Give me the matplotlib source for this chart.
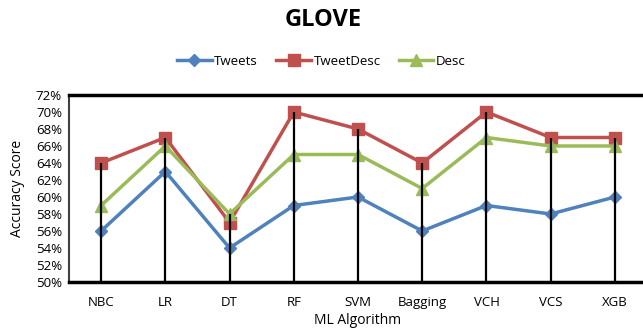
import matplotlib.pyplot as plt
from matplotlib.ticker import FuncFormatter

plt.rcParams["font.family"] = ["Open Sans", "DejaVu Sans"]

algorithms = ["NBC", "LR", "DT", "RF", "SVM", "Bagging", "VCH", "VCS", "XGB"]
tweets = [56, 63, 54, 59, 60, 56, 59, 58, 60]
tweet_desc = [64, 67, 57, 70, 68, 64, 70, 67, 67]
desc = [59, 66, 58, 65, 65, 61, 67, 66, 66]


def main():
    fig = plt.figure(figsize=(6.43, 3.31), dpi=100)
    ax = fig.add_axes([69 / 643, 49 / 331, 578 / 643, 187 / 331])

    x = list(range(len(algorithms)))
    ax.plot(x, tweets, color="#4F81BD", lw=2.5, marker="D", ms=6, label="Tweets", zorder=2)
    ax.plot(x, tweet_desc, color="#C0504D", lw=2.5, marker="s", ms=8, label="TweetDesc", zorder=2)
    ax.plot(x, desc, color="#9BBB59", lw=2.5, marker="^", ms=8, label="Desc", zorder=2)

    # drop lines from highest series value down to the axis
    tops = [max(a, b, c) for a, b, c in zip(tweets, tweet_desc, desc)]
    ax.vlines(x, 50, tops, color="black", lw=1.6, zorder=3)

    ax.set_xlim(-0.5, len(algorithms) - 0.5)
    ax.set_ylim(50, 72)
    ax.set_yticks(range(50, 73, 2))
    ax.yaxis.set_major_formatter(FuncFormatter(lambda v, p: f"{v:.0f}%"))
    ax.set_xticks(x)
    ax.set_xticklabels(algorithms)
    ax.tick_params(axis="both", length=0, labelsize=9.5)
    ax.tick_params(axis="x", pad=10)
    ax.tick_params(axis="y", pad=5)

    for side in ["top", "bottom"]:
        ax.spines[side].set_linewidth(2.5)
        ax.spines[side].set_color("black")
    ax.spines["left"].set_linewidth(1.5)
    ax.spines["left"].set_color("#404040")
    ax.spines["right"].set_visible(False)

    ax.set_ylabel("Accuracy Score", fontsize=10, labelpad=8)
    ax.set_xlabel("ML Algorithm", fontsize=10, labelpad=3)

    fig.text(0.502, 0.94, "GLOVE", ha="center", va="center",
             fontsize=17, fontweight="bold")
    fig.legend(loc="center", bbox_to_anchor=(0.5, 0.815), ncol=3, frameon=False,
               fontsize=9.5, handlelength=2.6, columnspacing=1.4, handletextpad=0.2)

    fig.savefig("out.png", dpi=100)
    plt.close(fig)


if __name__ == "__main__":
    main()
